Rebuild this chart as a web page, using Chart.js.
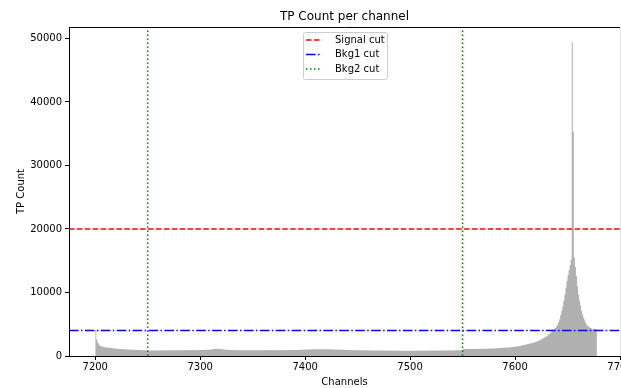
<!DOCTYPE html>
<html>
<head>
<meta charset="utf-8">
<script src="https://cdn.jsdelivr.net/npm/chart.js@4"></script>
<style>
  html, body { margin: 0; padding: 0; background: #fff; }
</style>
</head>
<body>
<canvas id="tpChart" width="621" height="388"></canvas>
<script>
// TP count per channel, one value per channel starting at firstChannel
const firstChannel = 7200;
const tpCounts = [
    4100, 2600, 2100, 1800, 1650, 1550, 1500, 1450, 1400, 1380,
    1350, 1320, 1300, 1280, 1260, 1240, 1220, 1200, 1190, 1170,
    1150, 1140, 1120, 1110, 1100, 1090, 1080, 1060, 1050, 1040,
    1030, 1020, 1010, 1000, 990, 980, 975, 970, 960, 950,
    945, 940, 930, 925, 920, 915, 910, 900, 905, 895,
    860, 820, 870, 880, 850, 890, 870, 860, 880, 870,
    880, 860, 890, 870, 900, 880, 870, 890, 880, 900,
    890, 880, 900, 910, 880, 900, 890, 910, 900, 890,
    900, 920, 890, 910, 900, 920, 910, 900, 930, 910,
    920, 910, 900, 930, 920, 910, 940, 920, 930, 940,
    930, 950, 940, 960, 950, 970, 980, 990, 1000, 1020,
    1040, 1060, 1080, 1100, 1120, 1150, 1160, 1140, 1120, 1100,
    1080, 1060, 1040, 1020, 1000, 990, 980, 970, 960, 950,
    940, 930, 920, 930, 910, 920, 900, 910, 920, 900,
    910, 900, 920, 910, 900, 890, 910, 900, 920, 910,
    900, 910, 890, 920, 900, 910, 900, 890, 910, 900,
    920, 900, 910, 900, 920, 910, 900, 930, 910, 920,
    910, 930, 920, 910, 930, 920, 940, 920, 930, 920,
    940, 930, 920, 950, 930, 940, 930, 950, 940, 960,
    950, 940, 960, 950, 970, 960, 980, 970, 990, 1000,
    1010, 1020, 1030, 1020, 1040, 1030, 1050, 1040, 1050, 1060,
    1050, 1060, 1050, 1070, 1060, 1050, 1060, 1070, 1050, 1060,
    1050, 1040, 1050, 1060, 1040, 1030, 1040, 1020, 1030, 1010,
    1000, 1010, 990, 1000, 980, 990, 970, 980, 960, 970,
    950, 960, 940, 950, 930, 940, 920, 930, 910, 920,
    910, 900, 920, 900, 910, 890, 900, 880, 900, 890,
    880, 890, 870, 880, 870, 860, 880, 870, 860, 870,
    860, 850, 870, 850, 860, 840, 850, 860, 840, 850,
    840, 850, 830, 840, 850, 830, 840, 830, 850, 840,
    830, 840, 820, 830, 840, 820, 830, 840, 820, 830,
    830, 820, 840, 830, 820, 840, 830, 850, 840, 830,
    840, 850, 840, 830, 850, 840, 850, 860, 840, 850,
    860, 850, 840, 860, 850, 870, 860, 850, 870, 860,
    870, 860, 880, 870, 860, 880, 870, 890, 880, 870,
    880, 890, 880, 900, 890, 880, 900, 890, 910, 900,
    1100, 1090, 1110, 1100, 1120, 1100, 1110, 1120, 1100, 1120,
    1110, 1130, 1120, 1140, 1120, 1130, 1150, 1140, 1130, 1150,
    1150, 1160, 1150, 1170, 1160, 1180, 1170, 1190, 1180, 1200,
    1200, 1210, 1220, 1230, 1240, 1250, 1260, 1270, 1280, 1290,
    1300, 1310, 1320, 1330, 1340, 1360, 1380, 1400, 1420, 1440,
    1460, 1490, 1520, 1550, 1580, 1610, 1640, 1680, 1720, 1760,
    1800, 1840, 1880, 1920, 1960, 2000, 2040, 2090, 2140, 2190,
    2250, 2330, 2410, 2490, 2570, 2650, 2740, 2840, 2940, 3040,
    3150, 3300, 3450, 3600, 3750, 3900, 4050, 4250, 4450, 4650,
    4900, 5300, 5800, 6400, 7100, 7800, 8700, 9700, 10800, 11800,
    12700, 13500, 14300, 15200, 49400, 35300, 15500, 14000, 12600, 11000,
    9700, 8700, 7900, 7100, 6500, 6000, 5600, 5200, 4900, 4700,
    4550, 4450, 4350, 4250, 4300, 4250, 4200, 4200
];

const xTicks = [7200, 7300, 7400, 7500, 7600, 7700];
const yTicks = [0, 10000, 20000, 30000, 40000, 50000];
const xRange = [7175, 7700];
const yMax = 51800;

const signalCut = 20000;
const bkg1Cut = 4000;
const bkg2Cuts = [7250, 7550];

const FONT = "'DejaVu Sans', sans-serif";

// histogram as a stepped filled line, closing bin at the right edge
const histPoints = tpCounts.map((c, i) => ({ x: firstChannel + i, y: c }));
histPoints.push({ x: firstChannel + tpCounts.length, y: tpCounts[tpCounts.length - 1] });

const bkg2Points = [];
bkg2Cuts.forEach((c, i) => {
    if (i > 0) bkg2Points.push({ x: c, y: null });
    bkg2Points.push({ x: c, y: 0 }, { x: c, y: yMax });
});

// title, top/right spines and the in-plot legend
const decorations = {
    id: 'decorations',
    afterDraw(chart) {
        const { ctx, chartArea } = chart;
        ctx.save();

        ctx.strokeStyle = '#000';
        ctx.lineWidth = 1;
        ctx.beginPath();
        ctx.moveTo(chartArea.left, chartArea.top + 0.5);
        ctx.lineTo(chartArea.right, chartArea.top + 0.5);
        ctx.stroke();
        ctx.strokeStyle = '#e6e6e6';
        ctx.beginPath();
        ctx.moveTo(chartArea.right + 0.5, chartArea.top);
        ctx.lineTo(chartArea.right + 0.5, chartArea.bottom);
        ctx.stroke();

        ctx.fillStyle = '#000';
        ctx.font = '12px ' + FONT;
        ctx.textAlign = 'center';
        ctx.textBaseline = 'middle';
        ctx.fillText('TP Count per channel', (chartArea.left + chartArea.right) / 2, 17);

        const items = chart.data.datasets.filter(d => d.inLegend);
        const bx = 303, by = 32, bw = 84, bh = 47;
        ctx.fillStyle = 'rgba(255,255,255,0.8)';
        ctx.strokeStyle = '#cccccc';
        ctx.beginPath();
        ctx.roundRect(bx + 0.5, by + 0.5, bw, bh, 2);
        ctx.fill();
        ctx.stroke();

        ctx.font = '10px ' + FONT;
        ctx.textAlign = 'left';
        items.forEach((d, i) => {
            const y = 40 + i * 14.5;
            ctx.strokeStyle = d.borderColor;
            ctx.lineWidth = d.borderWidth;
            ctx.setLineDash(d.borderDash);
            ctx.beginPath();
            ctx.moveTo(306, y);
            ctx.lineTo(322, y);
            ctx.stroke();
            ctx.setLineDash([]);
            ctx.fillStyle = '#000';
            ctx.fillText(d.label, 335, y);
        });
        ctx.restore();
    }
};

// fixed axis sizes, no extra room for overhanging tick labels
function fixX(s) {
    s.height = 32;
    s.paddingLeft = 0;
    s.paddingRight = 0;
}
function fixY(s) {
    s.width = 69;
    s.paddingTop = 0;
    s.paddingBottom = 0;
}

const ctx = document.getElementById('tpChart').getContext('2d');
const tpChart = new Chart(ctx, {
    type: 'line',
    data: {
        datasets: [
            {
                label: 'Signal cut', inLegend: true, order: 0,
                data: [{ x: xRange[0], y: signalCut }, { x: xRange[1], y: signalCut }],
                borderColor: '#ff0000', borderWidth: 1.5, borderDash: [5.5, 2.4], pointRadius: 0
            },
            {
                label: 'Bkg1 cut', inLegend: true, order: 0,
                data: [{ x: xRange[0], y: bkg1Cut }, { x: xRange[1], y: bkg1Cut }],
                borderColor: '#0000ff', borderWidth: 1.5, borderDash: [9.6, 2.4, 1.5, 2.4], pointRadius: 0
            },
            {
                label: 'Bkg2 cut', inLegend: true, order: 0,
                data: bkg2Points,
                borderColor: '#008000', borderWidth: 1.5, borderDash: [1.5, 2.5], pointRadius: 0
            },
            {
                label: 'TP Count', order: 10,
                data: histPoints,
                stepped: 'before',
                fill: 'origin',
                backgroundColor: '#b0b0b0',
                borderColor: 'rgba(0,0,0,0)',
                borderWidth: 1,
                pointRadius: 0
            }
        ]
    },
    options: {
        responsive: false,
        animation: false,
        events: [],
        layout: { autoPadding: false, padding: { top: 27, right: 1, left: 0, bottom: 0 } },
        plugins: {
            legend: { display: false },
            title: { display: false },
            tooltip: { enabled: false }
        },
        scales: {
            x: {
                type: 'linear',
                min: xRange[0],
                max: xRange[1],
                afterFit: fixX,
                afterBuildTicks: s => { s.ticks = xTicks.map(v => ({ value: v })); },
                grid: { drawOnChartArea: false, color: '#000', tickLength: 4 },
                border: { color: '#000' },
                ticks: { color: '#000', font: { family: FONT, size: 10 }, padding: 1, maxRotation: 0, callback: v => String(v) },
                title: { display: true, text: 'Channels', color: '#000', font: { family: FONT, size: 10 }, padding: { top: 1, bottom: 0 } }
            },
            y: {
                min: 0,
                max: yMax,
                afterFit: fixY,
                afterBuildTicks: s => { s.ticks = yTicks.map(v => ({ value: v })); },
                grid: { drawOnChartArea: false, color: '#000', tickLength: 4 },
                border: { color: '#000' },
                ticks: { color: '#000', font: { family: FONT, size: 10 }, padding: 3, callback: v => String(v) },
                title: { display: true, text: 'TP Count', color: '#000', font: { family: FONT, size: 10 }, padding: { top: 15, bottom: 0 } }
            }
        }
    },
    plugins: [decorations]
});
</script>
</body>
</html>
